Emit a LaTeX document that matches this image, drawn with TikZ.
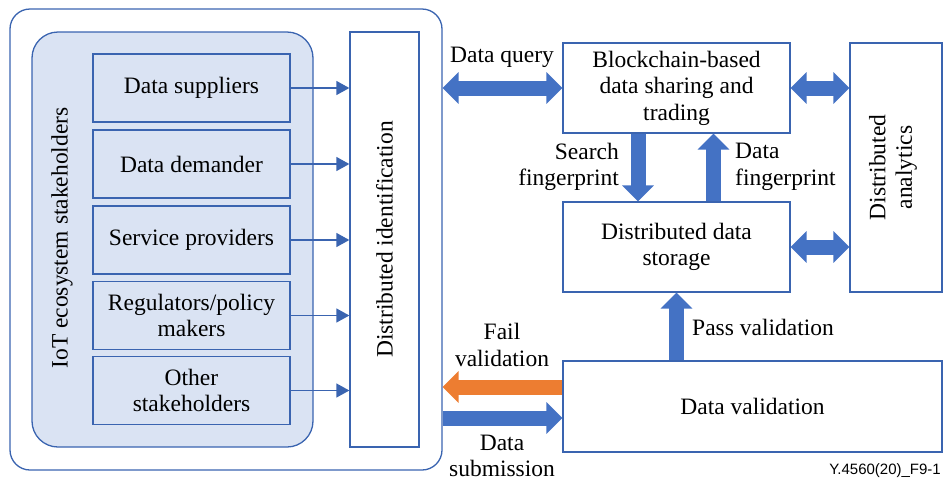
\documentclass[tikz,border=0pt]{standalone}
\usepackage{fontspec}
\setmainfont{Liberation Serif}
\newfontfamily\footfont{Liberation Sans}
\usetikzlibrary{arrows.meta,positioning}
\definecolor{bblue}{HTML}{4472C4}
\definecolor{lblue}{HTML}{DAE3F3}
\definecolor{borange}{HTML}{ED7D31}
\definecolor{lineblue}{HTML}{3A64B0}
\tikzset{
  txt/.style={font=\fontsize{23.5}{26.5}\selectfont, text=black},
  box/.style={draw=lineblue, line width=1.3pt, fill=white, minimum width=#1, inner sep=2pt, align=center, txt},
  sbox/.style={draw=lineblue, line width=1.3pt, fill=lblue, minimum width=197pt, minimum height=68pt, inner sep=1pt, align=center, txt},
  lbl/.style={txt, inner sep=0pt, align=center},
  thinarrow/.style={draw=lineblue, line width=1.3pt, -{Triangle[width=14pt,length=13pt]}},
  bigarrow/.style={draw=#1, line width=15pt, -{Triangle[width=31pt,length=16pt]}},
  bigdouble/.style={draw=bblue, line width=15pt, {Triangle[width=31pt,length=16pt]}-{Triangle[width=31pt,length=16pt]}},
}
\begin{document}
\begin{tikzpicture}[x=1pt,y=-1pt]
\useasboundingbox (0,0) rectangle (943,483);
% outer and inner containers
\node[draw=lineblue, line width=1.3pt, rounded corners=20pt, minimum width=432pt, minimum height=461pt, inner sep=0pt] (outer) at (226,239.5) {};
\node[draw=lineblue, line width=1.3pt, fill=lblue, rounded corners=26pt, minimum width=281pt, minimum height=415pt, inner sep=0pt] (inner) at (172.5,239.5) {};
\node[lbl, rotate=90] (iot) at (62,238) {IoT ecosystem stakeholders};
% stakeholder boxes
\node[sbox] (s1) at (191.5,88) {Data suppliers};
\node[sbox] (s2) at (191.5,164) {Data demander};
\node[sbox] (s3) at (191.5,240) {Service providers};
\node[sbox] (s4) at (191.5,315.5) {Regulators/policy\\makers};
\node[sbox] (s5) at (191.5,390.5) {Other\\stakeholders};
% distributed identification
\node[box=69pt, minimum height=415pt] (did) at (384.5,239.5) {};
\node[lbl, rotate=90] at (did.center) {Distributed identification};
\foreach \s in {s1,s2,s3,s4,s5}{
  \draw[thinarrow] (\s.east) -- (\s.east -| did.west);
}
% right side boxes
\node[box=227pt, minimum height=90pt] (bc) at (676.5,88) {Blockchain-based\\data sharing and\\trading};
\node[box=227pt, minimum height=90pt] (st) at (676.5,247) {Distributed data\\storage};
\node[box=92pt, minimum height=249pt] (da) at (896,167.5) {};
\node[lbl, rotate=90] at (893,167.5) {Distributed\\analytics};
\node[box=379pt, minimum height=91pt] (dv) at (752.5,406.5) {Data validation};
% block arrows
\draw[bigdouble] (bc.west -| outer.east) -- (bc.west);
\draw[bigdouble] (bc.east) -- (bc.east -| da.west);
\draw[bigdouble] (st.east) -- (st.east -| da.west);
\draw[bigarrow=bblue] ([xshift=-38.5pt]bc.south) -- ([xshift=-38.5pt]st.north);
\draw[bigarrow=bblue] ([xshift=37pt]st.north) -- ([xshift=37pt]bc.south);
\draw[bigarrow=bblue] (st.south |- dv.north) -- (st.south);
\draw[bigarrow=borange] ([yshift=19.5pt]dv.west) -- ([yshift=19.5pt]dv.west -| outer.east);
\draw[bigarrow=bblue] ([yshift=-11.5pt]dv.west -| outer.east) -- ([yshift=-11.5pt]dv.west);
% labels
\node[lbl] (lq) at (502,57) {Data query};
\node[lbl, anchor=east, align=right] (lsf) at (619,167) {Search\\fingerprint};
\node[lbl, anchor=west, align=left] (ldf) at (735,167) {Data\\fingerprint};
\node[lbl, anchor=west] (lpv) at (692,327) {Pass validation};
\node[lbl] (lfv) at (502,345) {Fail\\validation};
\node[lbl] (lds) at (502,456) {Data\\submission};
\node[inner sep=0pt, anchor=east, font=\footfont\fontsize{15}{17}\selectfont] (ft) at (941,471) {Y.4560(20)\_F9-1};
\end{tikzpicture}
\end{document}
